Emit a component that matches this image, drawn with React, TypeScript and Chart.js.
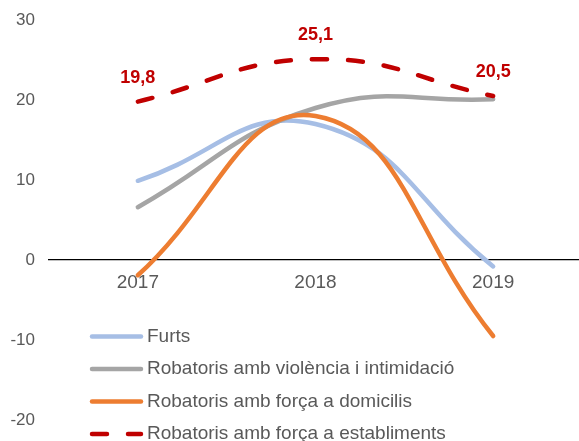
import React, { useEffect, useRef } from "react";
import { Chart, registerables } from "chart.js";

Chart.register(...registerables);

const categories = ["2017", "2018", "2019"];
const seriesNames = [
  "Furts",
  "Robatoris amb violència i intimidació",
  "Robatoris amb força a domicilis",
  "Robatoris amb força a establiments",
];
const furts = [9.9, 17.0, -0.8];
const violencia = [6.6, 19.0, 20.1];
const domicilis = [-1.9, 18.0, -9.5];
const establiments = [19.8, 25.1, 20.5];
const yMin = -20;
const yMax = 30;
const yStep = 10;

const FONT = "'Liberation Sans', Arial, sans-serif";
const TEXT = "#595959";
const colors = ["#A6BEE5", "#A5A5A5", "#ED7D31", "#C00000"];
const dashes: number[][] = [[], [], [], [15, 21]];
const seriesData = [furts, violencia, domicilis, establiments];

const legendPlugin = {
  id: "customLegend",
  afterDraw(chart: any) {
    const ctx = chart.ctx;
    ctx.save();
    chart.data.datasets.forEach((ds: any, i: number) => {
      const y = 336.5 + i * 32.5;
      ctx.beginPath();
      ctx.strokeStyle = ds.borderColor;
      ctx.lineWidth = 4.5;
      ctx.lineCap = "round";
      ctx.setLineDash(ds.borderDash || []);
      ctx.moveTo(92, y);
      ctx.lineTo(141, y);
      ctx.stroke();
      ctx.setLineDash([]);
      ctx.fillStyle = TEXT;
      ctx.font = `19px ${FONT}`;
      ctx.textAlign = "left";
      ctx.textBaseline = "middle";
      ctx.fillText(ds.label, 147, y);
    });
    ctx.restore();
  },
};

const labelPlugin = {
  id: "valueLabels",
  afterDatasetsDraw(chart: any) {
    const ctx = chart.ctx;
    const idx = 3;
    const meta = chart.getDatasetMeta(idx);
    const data = chart.data.datasets[idx].data as number[];
    ctx.save();
    ctx.fillStyle = "#C00000";
    ctx.font = `bold 18px ${FONT}`;
    ctx.textAlign = "center";
    ctx.textBaseline = "middle";
    meta.data.forEach((pt: any, i: number) => {
      ctx.fillText(data[i].toFixed(1).replace(".", ","), pt.x, pt.y - 24);
    });
    ctx.restore();
  },
};

export default function App() {
  const ref = useRef<HTMLCanvasElement | null>(null);
  useEffect(() => {
    if (!ref.current) return;
    const chart = new Chart(ref.current, {
      type: "line",
      data: {
        labels: categories,
        datasets: seriesNames.map((name, i) => ({
          label: name,
          data: seriesData[i],
          borderColor: colors[i],
          backgroundColor: colors[i],
          borderWidth: 4.5,
          borderDash: dashes[i],
          borderCapStyle: "round" as const,
          borderJoinStyle: "round" as const,
          pointRadius: 0,
          tension: 0.45,
          fill: false,
          order: 3 - i,
        })),
      },
      options: {
        responsive: false,
        animation: false,
        layout: { padding: { top: 20, bottom: 21, left: 0, right: 0 } },
        plugins: {
          legend: { display: false },
          tooltip: { enabled: false },
        },
        scales: {
          x: {
            type: "category",
            position: { y: 0 } as any,
            offset: true,
            grid: { display: false, drawTicks: false },
            border: { display: true, color: "#000000", width: 1.3 },
            ticks: {
              color: TEXT,
              font: { size: 19, family: FONT },
              padding: 11,
              maxRotation: 0,
            },
            afterFit: (s: any) => {
              s.paddingLeft = 0;
              s.paddingRight = 0;
            },
          },
          y: {
            min: yMin,
            max: yMax,
            grid: { display: false, drawTicks: false },
            border: { display: false },
            ticks: {
              stepSize: yStep,
              color: TEXT,
              font: { size: 17, family: FONT },
              padding: 14,
            },
            afterFit: (s: any) => {
              s.width = 49;
              s.paddingTop = 0;
              s.paddingBottom = 0;
            },
          },
        },
      },
      plugins: [labelPlugin, legendPlugin],
    });
    return () => chart.destroy();
  }, []);
  return (
    <div
      style={{
        position: "fixed",
        left: 0,
        top: 0,
        width: 579,
        height: 441,
        overflow: "hidden",
        background: "#fff",
      }}
    >
      <canvas ref={ref} width={582} height={441} style={{ display: "block" }} />
    </div>
  );
}
